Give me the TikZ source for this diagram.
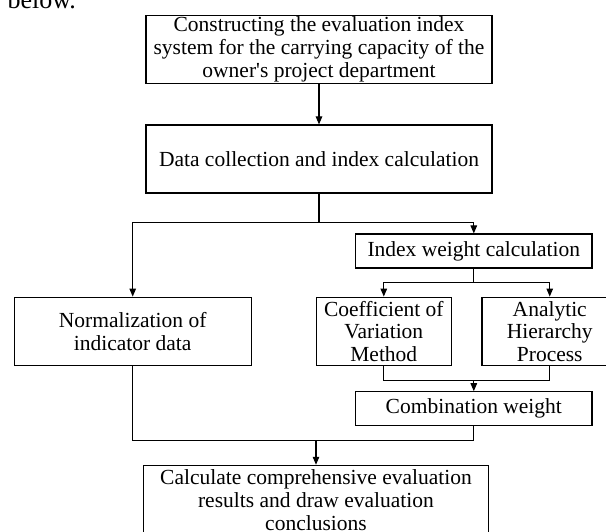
\documentclass[tikz,border=0pt]{standalone}
\usepackage{fontspec}
\setmainfont{Liberation Serif}[Ligatures=TeXOff]
\usetikzlibrary{arrows.meta}
\begin{document}
\begin{tikzpicture}[x=1pt,y=-1pt,
  box/.style={draw,line width=1.1pt,rectangle,align=center,inner sep=0pt,
    font=\fontsize{21.5}{22.8}\selectfont},
  arr/.style={-{Triangle[length=8pt,width=6.5pt]}},
  every path/.style={line width=1.1pt}]
\useasboundingbox (0,0) rectangle (606,532);
\node[anchor=base west,inner sep=0pt,font=\fontsize{26}{28}\selectfont] (below) at (7,9) {below.};
\node[box,minimum width=346,minimum height=68] (b1) at (319,49.3)
  {Constructing the evaluation index\\system for the carrying capacity of the\\owner's project department};
\node[box,minimum width=346,minimum height=68] (b2) at (319,159) {Data collection and index calculation};
\node[box,minimum width=236.4,minimum height=34] (iwc) at (473.8,251) {Index weight calculation};
\node[box,minimum width=236.7,minimum height=68.7] (norm) at (132.7,331.5) {Normalization of\\indicator data};
\node[box,minimum width=135.5,minimum height=68.7] (coef) at (383.8,331.5) {Coefficient of\\Variation\\Method};
\node[box,minimum width=135.5,minimum height=68.7] (ahp) at (549.75,331.5) {Analytic\\Hierarchy\\Process};
\node[box,minimum width=236.4,minimum height=33.3] (comb) at (473.8,408.4) {Combination weight};
\node[box,minimum width=344.4,minimum height=69.4] (final) at (316,500)
  {Calculate comprehensive evaluation\\results and draw evaluation\\conclusions};
\coordinate (j1) at (319,222.7);
\coordinate (j2) at (473.8,282.7);
\coordinate (j3) at (473.8,380.7);
\coordinate (j4) at (473.8,440.3);
\coordinate (j5) at (316,440.3);
\draw[arr] (b1) -- (b2);
\draw (b2) -- (j1);
\draw[arr] (j1) -| (norm);
\draw[arr] (j1) -| (iwc);
\draw (iwc) -- (j2);
\draw[arr] (j2) -| (coef);
\draw[arr] (j2) -| (ahp);
\draw (coef) |- (j3);
\draw (ahp) |- (j3);
\draw[arr] (j3) -- (comb);
\draw (comb) -- (j4);
\draw (norm) |- (j4);
\draw[arr] (j5) -- (final);
\end{tikzpicture}
\end{document}
